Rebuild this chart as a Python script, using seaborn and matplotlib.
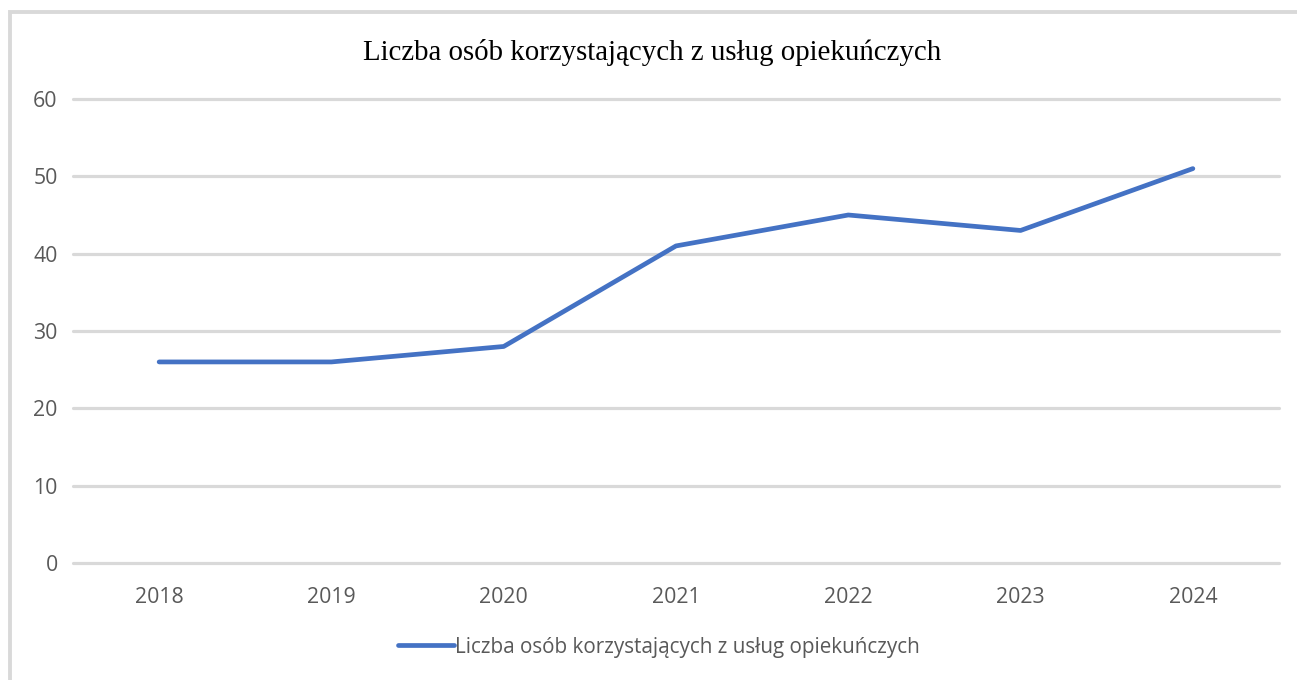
import pandas as pd
import seaborn as sns
from matplotlib import pyplot as plt
from matplotlib.patches import Rectangle

years = ["2018", "2019", "2020", "2021", "2022", "2023", "2024"]
counts = [26, 26, 28, 41, 45, 43, 51]
series_name = "Liczba osób korzystających z usług opiekuńczych"
y_ticks = [0, 10, 20, 30, 40, 50, 60]

df = pd.DataFrame({"rok": years, "liczba": counts})

sns.set_theme(style="white")
plt.rcParams["font.family"] = ["Open Sans", "DejaVu Sans"]

W, H = 1297, 680
fig = plt.figure(figsize=(W / 100, H / 100), dpi=100)
ax = fig.add_axes([73 / W, 1 - 563 / H, (1279 - 73) / W, (563 - 99) / H])

# outer chart frame (cut off on right and bottom like the screenshot)
fig.patches.append(Rectangle((9.5 / W, -0.1), 1.2, 1 - 11.5 / H + 0.1,
                             transform=fig.transFigure, fill=False,
                             edgecolor="#d9d9d9", linewidth=2.8))

sns.lineplot(data=df, x="rok", y="liczba", ax=ax, color="#4472c4",
             linewidth=3.4, solid_capstyle="round", label=series_name,
             sort=False)

ax.set_xlim(-0.5, len(years) - 0.5)
ax.set_ylim(0, 60)
ax.set_yticks(y_ticks)
ax.yaxis.grid(True, color="#d9d9d9", linewidth=2.3)
for gl in ax.get_ygridlines():
    gl.set_clip_on(False)
ax.set_axisbelow(True)
for s in ax.spines.values():
    s.set_visible(False)
ax.tick_params(axis="both", length=0, labelsize=15.3, labelcolor="#595959")
ax.tick_params(axis="x", pad=17)
ax.tick_params(axis="y", pad=11)
ax.set_xlabel("")
ax.set_ylabel("")

fig.text(0.503, 1 - 52 / H, series_name, ha="center", va="center",
         fontsize=20.8, family="Liberation Serif", color="black")

leg = ax.legend(loc="center", bbox_to_anchor=(0.508, 1 - 647 / H),
                bbox_transform=fig.transFigure, frameon=False,
                fontsize=14.9, handlelength=2.7, handletextpad=0.05)
for t in leg.get_texts():
    t.set_color("#595959")

fig.savefig("out.png", dpi=100, facecolor="white")
